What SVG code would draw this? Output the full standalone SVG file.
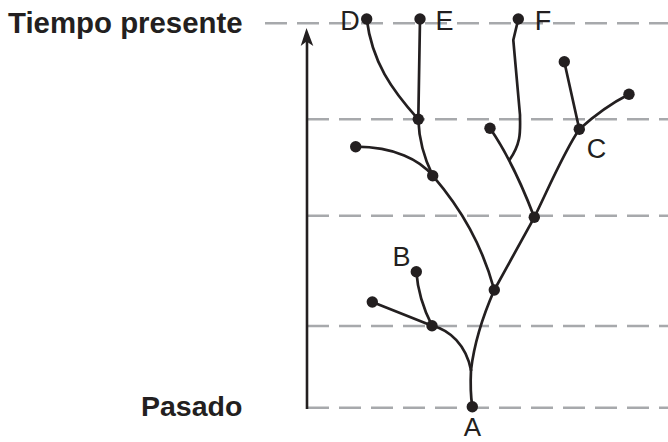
<svg xmlns="http://www.w3.org/2000/svg" width="668" height="442" viewBox="0 0 668 442">
<style>
.grid{stroke:#a7a9ac;stroke-width:2.6;stroke-dasharray:22 10;fill:none}
.br{stroke:#231f20;stroke-width:2.7;fill:none;stroke-linecap:round}
.dot{fill:#231f20}
.lbl{font-family:"Liberation Sans",Arial,sans-serif;font-size:27px;fill:#231f20}
.ttl{font-family:"Liberation Sans",Arial,sans-serif;font-size:28.5px;font-weight:bold;fill:#231f20}
</style>
<rect width="668" height="442" fill="#fff"/>
<g id="grid">
<line class="grid" x1="265" y1="23.3" x2="668" y2="23.3"/>
<line class="grid" x1="307" y1="119.3" x2="668" y2="119.3"/>
<line class="grid" x1="307" y1="215.7" x2="668" y2="215.7"/>
<line class="grid" x1="307" y1="326" x2="668" y2="326"/>
<line class="grid" x1="307" y1="407.7" x2="668" y2="407.7"/>
</g>
<g id="axis">
<line x1="307" y1="408.9" x2="307" y2="38" stroke="#231f20" stroke-width="2.6"/>
<path d="M306.5,28 L313.3,46 L306.5,41.5 L300.7,46 Z" fill="#231f20"/>
</g>
<g id="connectors">
<path class="br" d="M472.3,406.7 C470.5,395 470.5,380 471,370"/>
<path class="br" d="M471,370 C466,345 450,330 432,325.7"/>
<path class="br" d="M471,370 C474,345 482,318 494.3,290"/>
<path class="br" d="M432,325.7 L372.3,302"/>
<path class="br" d="M432,325.7 C425,312 418,295 416.3,271.7"/>
<path class="br" d="M494.3,290 C482,245 462,210 432.7,175.7"/>
<path class="br" d="M494.3,290 L534.3,217.3"/>
<path class="br" d="M432.7,175.7 C420,160 395,147 355.7,146.7"/>
<path class="br" d="M432.7,175.7 C424,158 419,140 418.3,119.3"/>
<path class="br" d="M418.3,119.3 C392,90 372,62 366.7,19"/>
<path class="br" d="M418.3,119.3 L420,19"/>
<path class="br" d="M534.3,217.3 C522,185 505,150 490,128.3"/>
<path class="br" d="M509.5,160 C522,142 520,130 520,115 L513.3,40 L518.3,19"/>
<path class="br" d="M534.3,217.3 C550,185 565,150 579.3,129.3"/>
<path class="br" d="M579.3,129.3 L564.3,61.7"/>
<path class="br" d="M579.3,129.3 C595,115 610,104 629,94.3"/>
</g>
<g id="node-A"><circle class="dot" cx="472.3" cy="406.7" r="5.7"/><text class="lbl" x="472.3" y="435.5" text-anchor="middle" style="font-size:26px">A</text></g>
<g id="node-j1"><circle class="dot" cx="432" cy="325.7" r="5.7"/></g>
<g id="node-l1"><circle class="dot" cx="372.3" cy="302" r="5.7"/></g>
<g id="node-B"><circle class="dot" cx="416.3" cy="271.7" r="5.7"/><text class="lbl" x="401.5" y="266" text-anchor="middle">B</text></g>
<g id="node-j2"><circle class="dot" cx="494.3" cy="290" r="5.7"/></g>
<g id="node-j3"><circle class="dot" cx="534.3" cy="217.3" r="5.7"/></g>
<g id="node-j4"><circle class="dot" cx="432.7" cy="175.7" r="5.7"/></g>
<g id="node-l2"><circle class="dot" cx="355.7" cy="146.7" r="5.7"/></g>
<g id="node-j5"><circle class="dot" cx="418.3" cy="119.3" r="5.7"/></g>
<g id="node-l3"><circle class="dot" cx="490" cy="128.3" r="5.7"/></g>
<g id="node-C"><circle class="dot" cx="579.3" cy="129.3" r="5.7"/><text class="lbl" x="596.5" y="158" text-anchor="middle">C</text></g>
<g id="node-l4"><circle class="dot" cx="564.3" cy="61.7" r="5.7"/></g>
<g id="node-l5"><circle class="dot" cx="629" cy="94.3" r="5.7"/></g>
<g id="node-D"><circle class="dot" cx="366.7" cy="19" r="5.7"/><text class="lbl" x="350" y="30" text-anchor="middle">D</text></g>
<g id="node-E"><circle class="dot" cx="420" cy="19" r="5.7"/><text class="lbl" x="444.5" y="30" text-anchor="middle">E</text></g>
<g id="node-F"><circle class="dot" cx="518.3" cy="19" r="5.7"/><text class="lbl" x="543" y="30" text-anchor="middle">F</text></g>
<g id="titles">
<text class="ttl" x="8" y="33" style="font-size:29.4px">Tiempo presente</text>
<text class="ttl" x="141" y="416">Pasado</text>
</g>
</svg>
